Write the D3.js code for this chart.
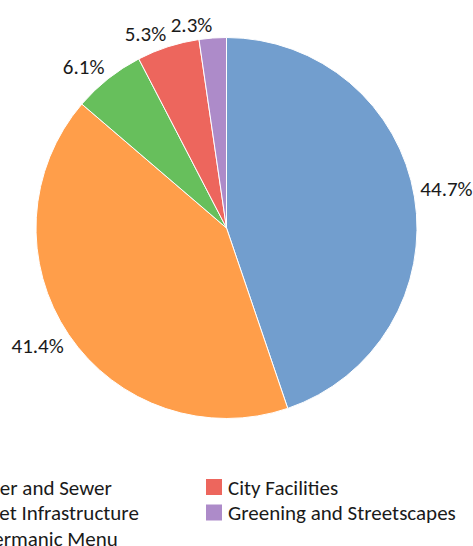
<!DOCTYPE html>
<html>
<head>
<meta charset="utf-8">
<script src="https://cdn.jsdelivr.net/npm/d3@7"></script>
<style>
  html, body { margin: 0; padding: 0; background: #fff; overflow: hidden; }
  svg { display: block; }
  text { font-family: Carlito, Calibri, Lato, sans-serif; fill: #1a1a1a; }
</style>
</head>
<body>
<svg id="chart" width="473" height="546"></svg>
<script>
const categories = ["Water and Sewer", "Street Infrastructure", "Aldermanic Menu", "City Facilities", "Greening and Streetscapes"];
const values = [44.7, 41.4, 6.1, 5.3, 2.3];
const labels = ["44.7%", "41.4%", "6.1%", "5.3%", "2.3%"];
const colors = ["#729ECE", "#FF9E4A", "#67BF5C", "#ED665D", "#AD8BC9"];

const svg = d3.select("#chart");
const cx = 226.5, cy = 228, radius = 190.5;
const fontSize = 21;
const capH = fontSize * 0.72;

const data = categories.map((c, i) => ({ name: c, value: values[i], label: labels[i], color: colors[i] }));

const pie = d3.pie().sort(null).value(d => d.value);
const arcs = pie(data);
const arc = d3.arc().innerRadius(0).outerRadius(radius);

const g = svg.append("g").attr("transform", `translate(${cx},${cy})`);
g.selectAll("path").data(arcs).join("path")
  .attr("d", arc)
  .attr("fill", d => d.data.color)
  .attr("stroke", "#fff")
  .attr("stroke-width", 1);

// labels outside end: nearest corner of the label box sits on the mid-angle ray
const labelR = radius + 6;
g.selectAll("text.lbl").data(arcs).join("text")
  .attr("class", "lbl")
  .attr("font-size", fontSize)
  .each(function(d) {
    const a = (d.startAngle + d.endAngle) / 2;
    const s = Math.sin(a), c = Math.cos(a);
    const px = labelR * s;
    const py = -labelR * c;
    const baseline = c > 0 ? py : py + capH;
    d3.select(this)
      .attr("x", px)
      .attr("y", baseline)
      .attr("text-anchor", s >= 0 ? "start" : "end")
      .text(d.data.label);
  });

// legend: 2 columns, column-major, left column runs past the window edge
const rows = 3;
const rowH = 25.5;
const sw = 16;
const legendTop = 479;
const col2X = 206;
const tmp = svg.append("text").attr("font-size", fontSize).attr("opacity", 0);
let maxW = 0;
categories.forEach(c => { tmp.text(c); maxW = Math.max(maxW, tmp.node().getComputedTextLength()); });
tmp.remove();
const colW = sw + 6 + maxW + 13;

const leg = svg.append("g");
data.forEach((d, i) => {
  const col = Math.floor(i / rows), row = i % rows;
  const x = col2X - (1 - col) * colW;
  const y = legendTop + row * rowH;
  leg.append("rect").attr("x", x).attr("y", y).attr("width", sw).attr("height", sw).attr("fill", d.color);
  leg.append("text").attr("x", x + sw + 6).attr("y", y + sw / 2 + capH / 2)
    .attr("font-size", fontSize).text(d.name);
});
</script>
</body>
</html>
